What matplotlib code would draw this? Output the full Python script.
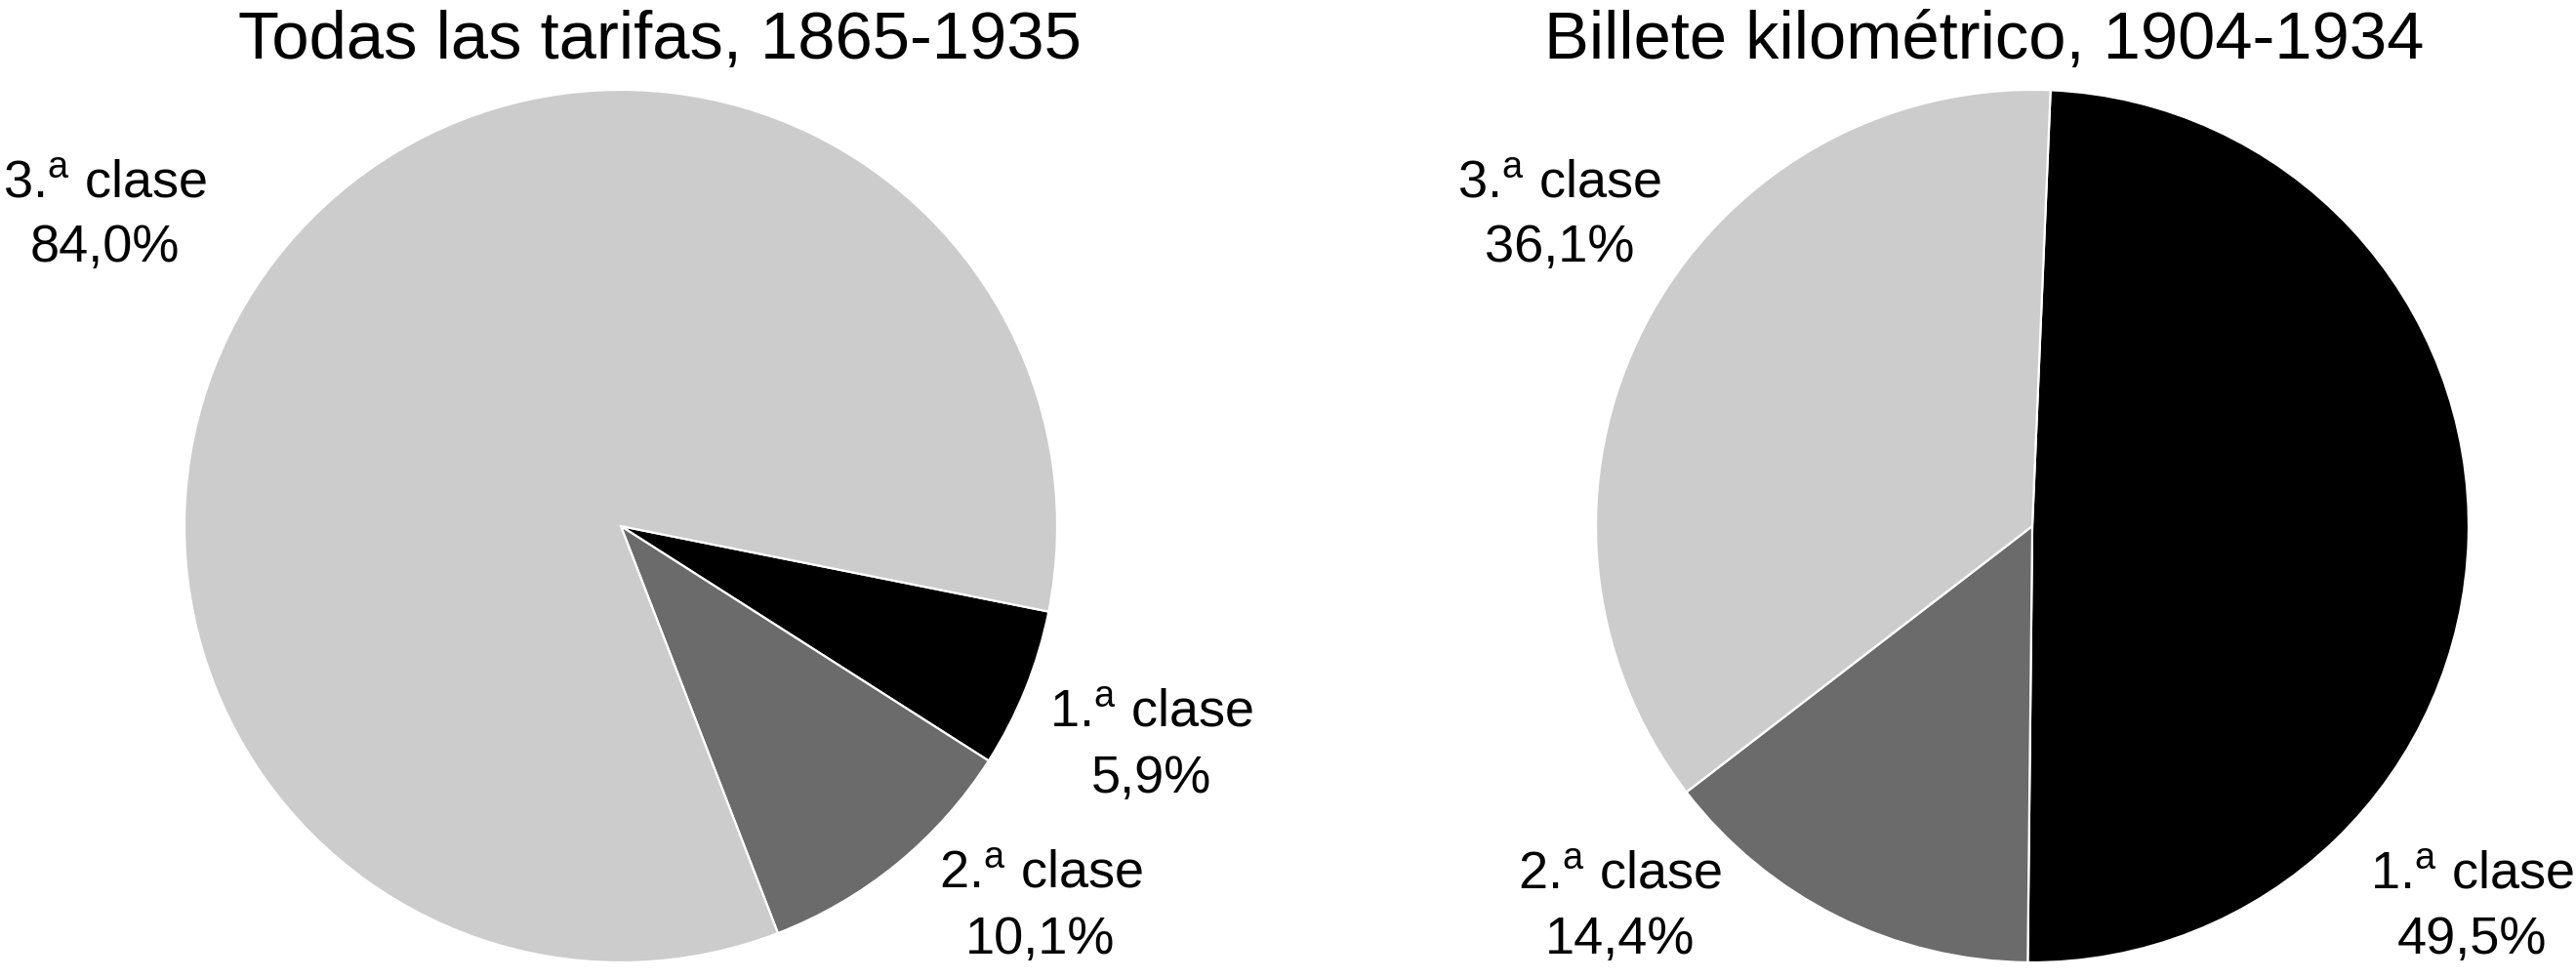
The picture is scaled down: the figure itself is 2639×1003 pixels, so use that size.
import matplotlib
matplotlib.use('Agg')
import matplotlib.pyplot as plt

plt.rcParams['font.family'] = ['Liberation Sans', 'DejaVu Sans']
plt.rcParams['mathtext.fontset'] = 'custom'
plt.rcParams['mathtext.rm'] = 'Liberation Sans'
plt.rcParams['mathtext.it'] = 'Liberation Sans'

# datos
clases = ['1.$^{\\mathrm{a}}$ clase', '2.$^{\\mathrm{a}}$ clase', '3.$^{\\mathrm{a}}$ clase']
todas = [5.9, 10.1, 84.0]
billete = [49.5, 14.4, 36.1]
titulos = ['Todas las tarifas, 1865-1935', 'Billete kilométrico, 1904-1934']
colores = ['#000000', '#6b6b6b', '#cccccc']

W, H = 2639, 1004
R = 447.0  # radio en px


def pct(v):
    return f'{v:.1f}'.replace('.', ',') + '%'


def tarta(ax, vals, cx, cy, x0, x1, start, pos):
    # limites para que 1 unidad = R px, centro en (cx, cy) px (desde arriba)
    ax.pie(vals, colors=colores, startangle=start, counterclock=False,
           wedgeprops=dict(edgecolor='white', linewidth=1.6))
    ax.set_aspect('auto')
    ax.set_xlim((x0 - cx) / R, (x1 - cx) / R)
    ax.set_ylim(-(H - cy) / R, cy / R)
    for nombre, v, (x, y1, y2) in zip(clases, vals, pos):
        ax.text(x, y1, nombre, ha='center', va='baseline', fontsize=39)
        ax.text(x, y2, pct(v), ha='center', va='baseline', fontsize=39)


fig = plt.figure(figsize=(W / 100, H / 100), dpi=100)
ax1 = fig.add_axes([0, 0, 0.5, 1])
ax2 = fig.add_axes([0.5, 0, 0.5, 1])

# posiciones de etiquetas (x, base linea 1, base linea 2) en unidades del radio
pos1 = [(1.215, -0.459, -0.609), (0.962, -0.828, -0.978), (-1.183, 0.754, 0.609)]
pos2 = [(1.007, -0.830, -0.978), (-0.946, -0.830, -0.978), (-1.083, 0.754, 0.609)]

tarta(ax1, todas, 636, 540, 0, W / 2, -11.3, pos1)
tarta(ax2, billete, 2082, 540, W / 2, W, 87.6, pos2)

fig.text(676 / W, 1 - 60 / H, titulos[0], ha='center', va='baseline', fontsize=49.5)
fig.text(2033 / W, 1 - 60 / H, titulos[1], ha='center', va='baseline', fontsize=49.5)

fig.savefig('out.png', dpi=100)
